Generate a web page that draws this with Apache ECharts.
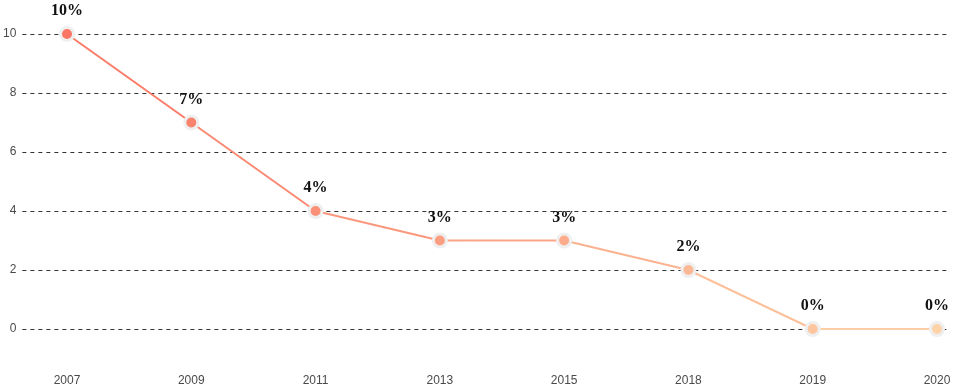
<!DOCTYPE html>
<html>
<head>
<meta charset="utf-8">
<style>
  html, body { margin: 0; padding: 0; background: #fff; }
  #chart { width: 962px; height: 389px; }
</style>
<script src="https://cdn.jsdelivr.net/npm/echarts@6/dist/echarts.min.js"></script>
</head>
<body>
<div id="chart"></div>
<script>
const years = ['2007', '2009', '2011', '2013', '2015', '2018', '2019', '2020'];
const rates = [10, 7, 4, 3, 3, 2, 0, 0];
const yTicks = { min: 0, max: 10, interval: 2 };

const chart = echarts.init(document.getElementById('chart'));
chart.setOption({
  animation: false,
  backgroundColor: '#ffffff',
  grid: [
    { left: 20, right: 15, top: 34, bottom: 60 },
    { left: 67, right: 25, top: 34, bottom: 60 }
  ],
  visualMap: {
    show: false,
    type: 'continuous',
    dimension: 0,
    seriesIndex: 0,
    min: 0,
    max: years.length - 1,
    inRange: { color: ['#fa7564', '#fdd4a9'] }
  },
  xAxis: [
    {
      gridIndex: 0, type: 'category', data: years, show: false
    },
    {
      gridIndex: 1,
      type: 'category',
      data: years,
      boundaryGap: false,
      axisLine: { show: false },
      axisTick: { show: false },
      splitLine: { show: false },
      axisLabel: {
        color: '#4a4a4a',
        fontSize: 12,
        fontFamily: 'Liberation Sans, Arial, sans-serif',
        margin: 46
      }
    }
  ],
  yAxis: [
    {
      gridIndex: 0,
      type: 'value',
      min: yTicks.min, max: yTicks.max, interval: yTicks.interval,
      axisLine: { show: false },
      axisTick: { show: false },
      axisLabel: {
        color: '#4a4a4a',
        fontSize: 12,
        fontFamily: 'Liberation Sans, Arial, sans-serif',
        margin: 6
      },
      splitLine: { lineStyle: { color: '#333', type: [4, 4], width: 1 } }
    },
    {
      gridIndex: 1,
      type: 'value',
      min: yTicks.min, max: yTicks.max, interval: yTicks.interval,
      show: false
    }
  ],
  series: [
    {
      type: 'line',
      xAxisIndex: 1,
      yAxisIndex: 1,
      data: rates,
      symbol: 'circle',
      symbolSize: 13,
      lineStyle: { width: 2 },
      itemStyle: { borderColor: '#efefef', borderWidth: 3 },
      label: {
        show: true,
        position: 'top',
        distance: 7,
        formatter: '{c}%',
        color: '#111',
        fontSize: 16,
        fontWeight: 'bold',
        fontFamily: 'Liberation Serif, DejaVu Serif, serif'
      }
    }
  ]
});
</script>
</body>
</html>
